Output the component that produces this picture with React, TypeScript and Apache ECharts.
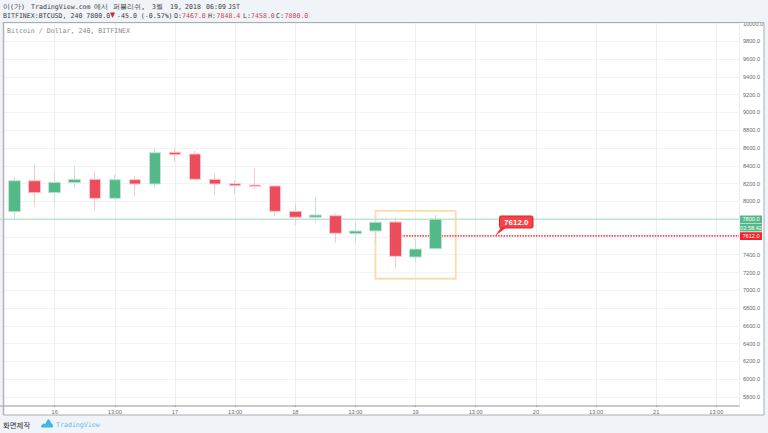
import React, { useEffect, useRef } from "react";
import * as echarts from "echarts";

const barSlots = [1, 2, 3, 4, 5, 6, 7, 8, 9, 10, 11, 12, 13, 14, 15, 16, 17, 18, 19, 20, 21, 22];
const opens = [7884, 8232, 8097, 8210, 8248, 8034, 8244, 8195, 8552, 8533, 8248, 8199, 8184, 8173, 7888, 7821, 7839, 7636, 7667, 7768, 7374, 7467];
const closes = [8232, 8097, 8214, 8248, 8034, 8244, 8195, 8547, 8525, 8248, 8195, 8176, 8169, 7888, 7821, 7847, 7641, 7667, 7765, 7382, 7464, 7800];
const lows = [7810, 7940, 7978, 8150, 7903, 8015, 8053, 8154, 8446, 8248, 8071, 8086, 8139, 7843, 7731, 7760, 7535, 7528, 7528, 7243, 7322, 7458];
const highs = [8277, 8417, 8338, 8398, 8338, 8300, 8289, 8597, 8597, 8570, 8315, 8240, 8372, 8184, 7978, 8046, 7866, 7771, 7770, 7816, 7577, 7848.4];
const xTickLabels = ["16", "13:00", "17", "13:00", "18", "13:00", "19", "13:00", "20", "13:00", "21", "13:00"];
const lastPrice = 7800;
const alertPrice = 7612;
const xRange = [0, 37.13];
const alertStart = 20;
const boxX = [19, 23];
const boxY = [7130, 7892];

const MONO = "'DejaVu Sans Mono', monospace";
const SANS = "'Liberation Sans', Arial, sans-serif";
const RED = "#eb4d5c";
const GREEN = "#53b987";
const VALUE_RED = "#c8434f";
const TEXT = "#3a3a3a";
const AXIS_TEXT = "#6a6a6a";

echarts.graphic.registerShape(
  "tvLogo",
  echarts.graphic.extendPath(
    "M0 7 L3 4.5 L4.5 5.5 L7 1 C8 0 9 0 9.5 1 L12 5 L13 6 C14 7 13.5 9 12 9 L2 9 C0.5 9 -0.5 8 0 7 Z",
    {}
  )
);

function txt(x: number, y: number, text: string, fill: string, font = MONO, size = 6.6, weight = "normal", align = "left") {
  return {
    type: "text",
    x,
    y,
    z: 20,
    silent: true,
    style: { text, fill, font: `${weight} ${size}px ${font}`, textAlign: align, textVerticalAlign: "middle" },
  };
}

function tag(y: number, h: number, fill: string, text: string) {
  return [
    { type: "rect", z: 19, silent: true, shape: { x: 740, y, width: 22, height: h }, style: { fill } },
    txt(751, y + h / 2, text, "#ffffff", SANS, 5.6, "normal", "center"),
  ];
}

export default function App() {
  const ref = useRef<HTMLDivElement>(null);
  useEffect(() => {
    const chart = echarts.init(ref.current!, undefined, { renderer: "svg" });
    const candleData = barSlots.map((x, i) => [x, opens[i], closes[i], lows[i], highs[i]]);
    chart.setOption({
      animation: false,
      backgroundColor: "#f0f3f8",
      grid: { left: -5.5, top: 22, width: 744.5, height: 392.8, containLabel: false, outerBoundsMode: "none" },
      xAxis: [
        {
          type: "value",
          min: xRange[0],
          max: xRange[1],
          interval: 3,
          axisLine: { show: false },
          axisTick: { show: false },
          axisLabel: { show: false },
          splitLine: { show: true, lineStyle: { color: "#e9eff3", width: 1 } },
        },
        {
          type: "value",
          position: "bottom",
          offset: -9.2,
          z: 5,
          min: xRange[0],
          max: xRange[1],
          interval: 3,
          axisLine: { show: true, onZero: false, lineStyle: { color: "#b9b9b9", width: 1.5 } },
          axisTick: { show: true, length: 1.5, lineStyle: { color: "#9a9a9a", width: 1 } },
          axisLabel: {
            show: true,
            margin: 3,
            color: AXIS_TEXT,
            fontFamily: SANS,
            fontSize: 5.6,
            showMinLabel: false,
            showMaxLabel: false,
            formatter: (v: number) => xTickLabels[v / 3 - 1] ?? "",
          },
          splitLine: { show: false },
        },
      ],
      yAxis: {
        type: "value",
        position: "right",
        min: 5600,
        max: 10017,
        interval: 200,
        axisLine: { show: true, lineStyle: { color: "#9a9a9a", width: 1 } },
        axisTick: { show: true, length: 2.5, lineStyle: { color: "#9a9a9a" } },
        axisLabel: {
          show: true,
          margin: 4,
          color: AXIS_TEXT,
          fontFamily: SANS,
          fontSize: 5.6,
          formatter: (v: number) => (v >= 5800 && v <= 10000 && v % 200 === 0 ? v.toFixed(1) : ""),
        },
        splitLine: { show: true, lineStyle: { color: "#f1f4f6", width: 1 } },
      },
      series: [
        {
          type: "line",
          z: 1,
          silent: true,
          symbol: "none",
          data: [
            [xRange[0], lastPrice],
            [xRange[1], lastPrice],
          ],
          lineStyle: { color: "#bfe3d2", width: 1.5 },
        },
        {
          type: "line",
          z: 1,
          silent: true,
          symbol: "none",
          data: [
            [alertStart, alertPrice],
            [xRange[1], alertPrice],
          ],
          lineStyle: { color: "#f4474f", width: 1.6, type: [1.5, 1.2] },
          markArea: {
            silent: true,
            itemStyle: { color: "rgba(0,0,0,0)", borderColor: "#fcdba8", borderWidth: 1.8 },
            data: [[{ coord: [boxX[0], boxY[0]] }, { coord: [boxX[1], boxY[1]] }]],
          },
        },
        {
          type: "candlestick",
          z: 2,
          silent: true,
          barWidth: 12,
          encode: { x: 0, y: [1, 2, 3, 4] },
          data: candleData,
          itemStyle: {
            color: GREEN,
            color0: RED,
            borderColor: "#c6e0da",
            borderColor0: "#fbc6cc",
            borderWidth: 1,
          },
        },
      ],
      graphic: {
        elements: [
          { type: "rect", z: -1, silent: true, shape: { x: 3, y: 22, width: 761, height: 393 }, style: { fill: "#ffffff" } },
          { type: "rect", z: 1, silent: true, shape: { x: 3, y: 406, width: 761, height: 9 }, style: { fill: "#ffffff" } },
          { type: "rect", z: 1, silent: true, shape: { x: -6, y: 20, width: 9, height: 400 }, style: { fill: "#f0f3f8" } },
          { type: "rect", z: 1, silent: true, shape: { x: 0, y: 415.2, width: 768, height: 18 }, style: { fill: "#f0f3f8" } },
          {
            type: "rect",
            z: 15,
            silent: true,
            shape: { x: 3.5, y: 22.5, width: 760.5, height: 392.5 },
            style: { fill: "none", stroke: "#a9acb0", lineWidth: 1 },
          },
          { type: "line", z: 15, silent: true, shape: { x1: 3.5, y1: 22, x2: 3.5, y2: 415 }, style: { stroke: "#b3b3b3", lineWidth: 1.5 } },
          txt(3, 7, "이(가)", TEXT),
          txt(31, 7, "TradingView.com", TEXT),
          txt(94, 7, "에서", TEXT),
          txt(113, 7, "퍼블리쉬,", TEXT, MONO, 7),
          txt(152, 7, "3월", TEXT),
          txt(170, 7, "19,", TEXT),
          txt(185, 7, "2018", TEXT),
          txt(206, 7, "06:09", TEXT),
          txt(228, 7, "JST", TEXT),
          txt(3, 15.5, "BITFINEX:BTCUSD, 240 7800.0", TEXT),
          {
            type: "polygon",
            z: 20,
            silent: true,
            shape: { points: [[110, 12.5], [115, 12.5], [112.5, 18]] },
            style: { fill: "#d5272f" },
          },
          txt(117, 15.5, "-45.0 (-0.57%)", TEXT),
          txt(174, 15.5, "O:", TEXT),
          txt(182, 15.5, "7467.0", VALUE_RED),
          txt(208, 15.5, "H:", TEXT),
          txt(216.5, 15.5, "7848.4", VALUE_RED),
          txt(243, 15.5, "L:", TEXT),
          txt(251, 15.5, "7458.0", VALUE_RED),
          txt(276, 15.5, "C:", TEXT),
          txt(284.5, 15.5, "7800.0", VALUE_RED),
          txt(7, 31, "Bitcoin / Dollar, 240, BITFINEX", "#85888c"),
          ...tag(215.5, 7.6, "#53b987", "7800.0"),
          ...tag(223.6, 7.8, "#53b987", "02:58:42"),
          ...tag(232.2, 7.8, "#f5222b", "7612.0"),
          {
            type: "polygon",
            z: 18,
            silent: true,
            shape: { points: [[495, 236], [502, 226], [507, 227]] },
            style: { fill: "#f0343c" },
          },
          {
            type: "rect",
            z: 18,
            silent: true,
            shape: { x: 499.5, y: 216, width: 33.5, height: 12, r: 1.5 },
            style: { fill: "#f4434b", stroke: "#ee1c25", lineWidth: 1 },
          },
          txt(516.3, 222.2, "7612.0", "#ffffff", SANS, 8, "bold", "center"),
          txt(3, 424, "화면제작", "#333333", "'Noto Sans CJK KR', sans-serif", 7.4),
          { type: "tvLogo", z: 20, silent: true, x: 41, y: 419, scaleX: 0.9, scaleY: 0.95, style: { fill: "#45b4e4" } },
          txt(56, 424.5, "TradingView", "#5bbde8"),
        ],
      },
    });
    return () => chart.dispose();
  }, []);
  return <div ref={ref} style={{ position: "fixed", left: 0, top: 0, width: 768, height: 433 }} />;
}
